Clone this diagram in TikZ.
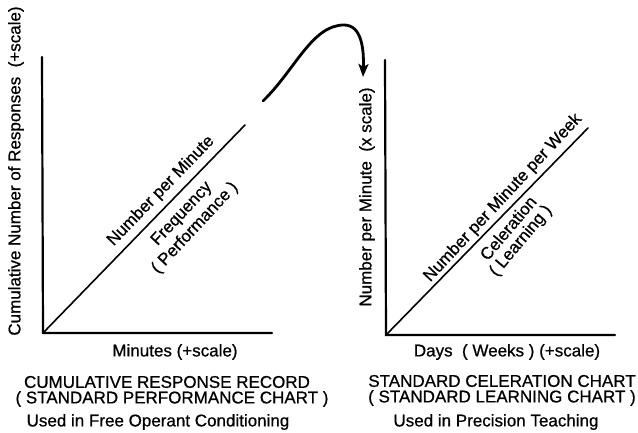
\documentclass[tikz,border=0pt]{standalone}
\usepackage{fontspec}
\setmainfont{Liberation Sans}[FakeBold=0.7]
\usetikzlibrary{arrows.meta}
\tikzset{
  axis/.style={line width=2.2pt, line cap=round},
  diag/.style={line width=1.6pt, line cap=round},
  lbl/.style={inner sep=0pt, font=\fontsize{17}{18}\selectfont},
  curvy/.style={line width=2.8pt, line cap=round, -{Stealth[length=13pt,width=10pt,inset=3pt]}}
}
\begin{document}
\begin{tikzpicture}[x=1pt,y=-1pt]
\useasboundingbox (0,0) rectangle (638,433);
% left chart
\coordinate (o1) at (43,333);
\coordinate (y1) at (42,57);
\coordinate (x1) at (272,333);
\coordinate (d1) at (245,125);
\draw[axis] (y1) -- (o1) -- (x1);
\draw[diag] (o1) -- (d1);
% right chart
\coordinate (o2) at (386,335);
\coordinate (y2) at (385,60);
\coordinate (x2) at (615,335);
\coordinate (d2) at (588,128);
\draw[axis] (y2) -- (o2) -- (x2);
\draw[diag] (o2) -- (d2);
% connecting arrow
\coordinate (as) at (263,101);
\coordinate (ap) at (344,25);
\coordinate (ae) at (363,77);
\draw[curvy] (as) .. controls (295,70) and (312,25) .. (ap) .. controls (362,25) and (364,50) .. (ae);
% axis labels
\node[lbl, rotate=90] (ylab1) at (16,171) {Cumulative Number of Responses\ \ (+scale)};
\node[lbl, rotate=90] (ylab2) at (367,197) {Number per Minute\ \ (x scale)};
\node[lbl] (xlab1) at (175,352) {Minutes (+scale)};
\node[lbl] (xlab2) at (507,352) {Days\ \ ( Weeks ) (+scale)};
% diagonal labels
\node[lbl, rotate=46] (n1) at (161,191) {Number per Minute};
\node[lbl, rotate=47] (f1) at (182,214) {Frequency};
\node[lbl, rotate=47] (p1) at (195,228) {( Performance )};
\node[lbl, rotate=47] (n2) at (503,198) {Number per Minute per Week};
\node[lbl, rotate=50] (c2) at (508,228) {Celeration};
\node[lbl, rotate=50] (l2) at (521,241) {( Learning )};
% titles
\node[lbl] (t1a) at (167,382) {CUMULATIVE RESPONSE RECORD};
\node[lbl] (t1b) at (172,399) {( STANDARD PERFORMANCE CHART )};
\node[lbl] (u1) at (158,422) {Used in Free Operant Conditioning};
\node[lbl] (t2a) at (502,381) {STANDARD CELERATION CHART};
\node[lbl] (t2b) at (502,398) {( STANDARD LEARNING CHART )};
\node[lbl] (u2) at (496,422) {Used in Precision Teaching};
\end{tikzpicture}
\end{document}
